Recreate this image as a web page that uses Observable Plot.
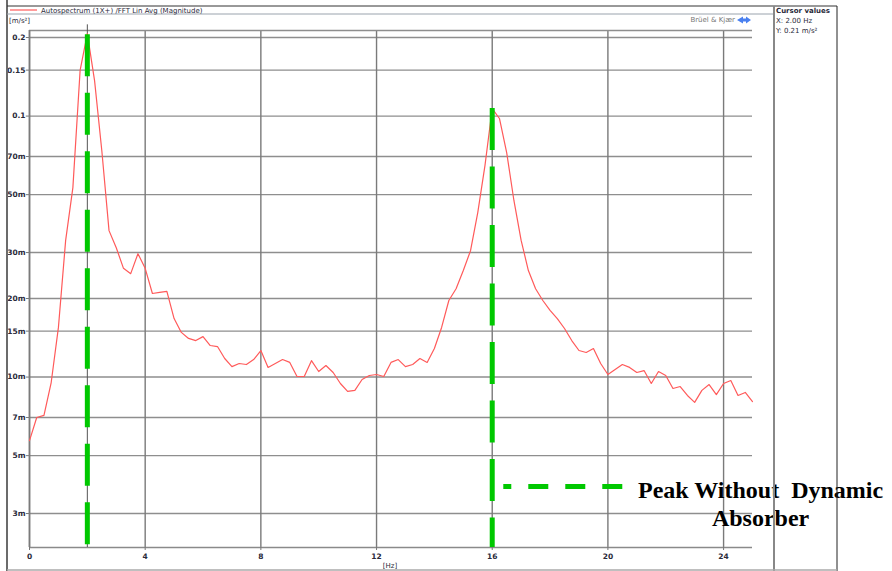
<!DOCTYPE html>
<html><head><meta charset="utf-8">
<script src="https://cdn.jsdelivr.net/npm/d3@7"></script>
<script src="https://cdn.jsdelivr.net/npm/@observablehq/plot@0.6"></script>
<style>
body{margin:0;background:#fff;}
svg text{white-space:pre;}
</style></head><body><div id="chart"></div>
<script>
// Frequency resolution of the FFT (Hz) and magnitude per bin (m/s²)
const freqStep = 0.25;
const magnitude = [
  0.00571,0.00700,0.00713,0.00953,0.0155,0.0334,0.0532,0.1496,0.207,0.1368,
  0.0738,0.0364,0.0313,0.0261,0.0249,0.0297,0.0261,0.0209,0.0211,0.0213,
  0.01676,0.01483,0.01406,0.01380,0.01429,0.01321,0.01309,0.01178,0.01097,0.01127,
  0.01117,0.01167,0.01264,0.01089,0.01127,0.01167,0.01138,0.01005,0.01005,0.01156,
  0.01050,0.01107,0.01041,0.00945,0.00881,0.00889,0.00979,0.01014,0.01023,0.01005,
  0.01138,0.01167,0.01097,0.01117,0.01178,0.01138,0.01286,0.01549,0.01965,0.0218,
  0.0256,0.0305,0.0427,0.0647,0.1069,0.0979,0.0725,0.0475,0.0334,0.0256,
  0.0218,0.01965,0.0180,0.01676,0.01535,0.01380,0.01264,0.01242,0.01286,0.01127,
  0.01023,0.01069,0.01117,0.01089,0.01041,0.01059,0.00945,0.01050,0.01014,0.00904,
  0.00920,0.00850,0.00800,0.00889,0.00936,0.00857,0.00945,0.00970,0.00850,0.00873,
  0.00806
];
const xTicks = [0,4,8,12,16,20,24];
const yTicks = [0.2,0.15,0.1,0.07,0.05,0.03,0.02,0.015,0.01,0.007,0.005,0.003];
const yTickLabels = ["0.2","0.15","0.1","70m","50m","30m","20m","15m","10m","7m","5m","3m"];
const xDomain = [0, 25];
const yDomain = [0.002223, 0.2128];
const peakFreqs = [2, 16];
const peakTops = [0.205, 0.1069];
const peakBottoms = [0.002262, 0.002223];
const cursorFreq = 2;
const annoLines = ["Peak Without  Dynamic", "Absorber"];
const annoY = [0.003428, 0.002698];
const annoX = 25.28;
const pointerY = 0.00381;
const pointerX = [16.4, 20.6];

const data = magnitude.map((v, i) => ({f: i * freqStep, v}));
const peaks = peakFreqs.map((f, i) => ({f, top: peakTops[i], bottom: peakBottoms[i]}));
const anno = annoLines.map((t, i) => ({t, y: annoY[i]}));
const yTickData = yTicks.map((v, i) => ({v, label: yTickLabels[i]}));

const chart = Plot.plot({
  width: 892, height: 571,
  marginLeft: 29, marginRight: 140, marginTop: 30, marginBottom: 24,
  x: {domain: xDomain},
  y: {type: "log", domain: yDomain, axis: null},
  style: {fontFamily: "DejaVu Sans", fontSize: "8px", color: "#2a2a3a", background: "#fff", overflow: "visible"},
  marks: [
    Plot.ruleY(yTickData, {y: "v", x1: xDomain[0], x2: xDomain[1], stroke: "#8e8e8e", strokeWidth: 1.4}),
    Plot.ruleY(yTickData, {y: "v", x1: -0.11, x2: xDomain[0], stroke: "#777", strokeWidth: 1}),
    Plot.text(yTickData, {y: "v", text: "label", frameAnchor: "left", dx: -4, textAnchor: "end", fontWeight: "bold", fontSize: 7.5, fill: "#2a2a3a"}),
    Plot.gridX(xTicks, {stroke: "#7a7a7a", strokeOpacity: 1, strokeWidth: 1.4}),
    Plot.ruleY([yDomain[1]], {stroke: "#8e8e8e", strokeWidth: 1.4}),
    Plot.ruleY([yDomain[0]], {stroke: "#8a8a8a", strokeWidth: 1.6}),
    Plot.ruleX([xDomain[0]], {stroke: "#7a7a7a", strokeWidth: 1.6}),
    Plot.axisX({ticks: xTicks, tickSize: 3, tickPadding: 3, label: null, stroke: "#777", fontWeight: "bold", fontSize: 7.5}),
    Plot.ruleX([cursorFreq], {y1: 0.2237, y2: yDomain[0], stroke: "#555", strokeWidth: 1}),
    Plot.line(data, {x: "f", y: "v", stroke: "#ff5a5a", strokeWidth: 1.2}),
    Plot.ruleX(peaks, {x: "f", y1: "top", y2: "bottom", stroke: "#00c800", strokeWidth: 5, strokeDasharray: "42,16.5"}),
    Plot.ruleY([pointerY], {x1: pointerX[0], x2: pointerX[1], stroke: "#00c800", strokeWidth: 5, strokeDasharray: "20,17", strokeDashoffset: 12}),
    Plot.text(anno, {x: annoX, y: "y", text: "t", fontFamily: "Liberation Serif", fontWeight: "bold", fontSize: 24, textAnchor: "middle", lineAnchor: "bottom", fill: "#000"})
  ]
});
document.getElementById("chart").appendChild(chart);

const svg = d3.select(chart);
const deco = svg.append("g");
const line = (x1,y1,x2,y2,stroke,w) => deco.append("line").attr("x1",x1).attr("y1",y1).attr("x2",x2).attr("y2",y2).attr("stroke",stroke).attr("stroke-width",w);
line(7,0,7,571,"#6b6b6b",2);
line(7,6,837,6,"#333",1);
line(7,14,774,14,"#9aa3ad",1);
line(774,6,774,571,"#888",2);
line(837,6,837,571,"#222",1);
line(7,570,837,570,"#aaa",1.5);
line(10,10,37,10,"#ff5a5a",1.2);
const txt = (x,y,s,opts={}) => deco.append("text").attr("x",x).attr("y",y).text(s)
  .attr("font-family","DejaVu Sans").attr("font-size",opts.size||7)
  .attr("font-weight",opts.weight||"normal").attr("fill",opts.fill||"#2a2a3a")
  .attr("text-anchor",opts.anchor||"start");
txt(41,12.5,"Autospectrum (1X+) /FFT Lin Avg (Magnitude)");
txt(9,23,"[m/s²]");
txt(735,22,"Brüel & Kjær",{fill:"#777",anchor:"end"});
deco.append("path").attr("d","M737,20 L743,16.5 L743,18.5 L746,18.5 L746,16.5 L751,20 L746,23.5 L746,21.5 L743,21.5 L743,23.5 Z").attr("fill","#4a80f0");
txt(776,12.5,"Cursor values",{weight:"bold"});
txt(776,23,"X: 2.00 Hz");
txt(776,33,"Y: 0.21 m/s²");
txt(390,568,"[Hz]",{anchor:"middle"});
</script></body></html>
